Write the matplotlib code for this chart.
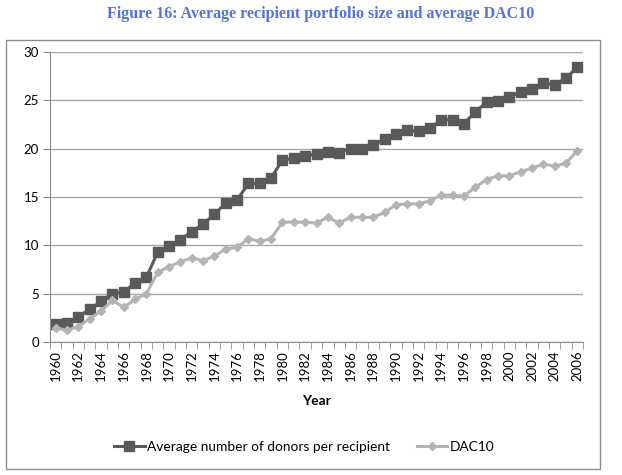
import numpy as np
import matplotlib
matplotlib.use('Agg')
import matplotlib.pyplot as plt
from matplotlib.patches import Rectangle

years = list(range(1960, 2007))
donors = [1.9, 2.0, 2.6, 3.4, 4.2, 5.0, 5.2, 6.1, 6.7, 9.3,
          9.9, 10.6, 11.4, 12.2, 13.2, 14.4, 14.7, 16.4, 16.4, 17.0,
          18.8, 19.0, 19.2, 19.5, 19.7, 19.6, 20.0, 20.0, 20.4, 21.0,
          21.5, 21.9, 21.8, 22.1, 23.0, 23.0, 22.6, 23.8, 24.8, 24.9,
          25.3, 25.9, 26.2, 26.8, 26.6, 27.3, 28.4]
dac10 = [1.5, 1.2, 1.6, 2.4, 3.2, 4.3, 3.6, 4.4, 5.0, 7.2,
         7.8, 8.3, 8.7, 8.4, 8.9, 9.6, 9.8, 10.7, 10.4, 10.7,
         12.4, 12.4, 12.4, 12.3, 12.9, 12.3, 12.9, 12.9, 12.9, 13.4,
         14.2, 14.3, 14.3, 14.6, 15.2, 15.2, 15.1, 16.0, 16.8, 17.2,
         17.2, 17.6, 18.0, 18.4, 18.2, 18.5, 19.8]
labels = ['Average number of donors per recipient', 'DAC10']

plt.rcParams['font.family'] = ['Lato', 'DejaVu Sans']

fig = plt.figure(figsize=(6.22, 4.75), dpi=100)
W, H = 622, 475

# outer chart frame
fig.patches.append(Rectangle((6 / W, 1 - 469 / H), 594 / W, 429 / H,
                             transform=fig.transFigure, fill=False,
                             edgecolor='#8c8c8c', linewidth=1.0))

fig.text(0.515, 1 - 14 / H, 'Figure 16: Average recipient portfolio size and average DAC10',
         ha='center', va='center', fontsize=11.5, fontweight='semibold',
         color='#4f74e0', family=['Liberation Serif', 'DejaVu Serif'])

ax = fig.add_axes([50 / W, 1 - 342 / H, 533 / W, 290 / H])
x = np.arange(len(years))
ax.plot(x, donors, color='#595959', linewidth=2.2, marker='s',
        markersize=7, label=labels[0])
ax.plot(x, dac10, color='#b4b4b4', linewidth=2.2, marker='D',
        markersize=4.5, label=labels[1])

ax.set_xlim(-0.5, len(years) - 0.5)
ax.set_ylim(0, 30)
ax.set_yticks(range(0, 31, 5))
ax.yaxis.grid(True, color='#a6a6a6', linewidth=1.0)
ax.set_axisbelow(True)

ax.set_xticks(x[::2])
ax.set_xticklabels([str(y) for y in years[::2]], rotation=90, fontsize=9.5)
ax.set_xticks(np.arange(-0.5, len(years), 1), minor=True)
ax.tick_params(axis='x', which='major', length=0, pad=6)
ax.tick_params(axis='x', which='minor', length=5, color='#8c8c8c', direction='out')
ax.tick_params(axis='y', length=5, color='#8c8c8c', labelsize=9.5, pad=3)

for s in ['top', 'right']:
    ax.spines[s].set_visible(False)
for s in ['left', 'bottom']:
    ax.spines[s].set_color('#8c8c8c')

ax.set_xlabel('Year', fontsize=10, fontweight='bold', labelpad=10)

ax.legend(loc='center', bbox_to_anchor=(0.489, 1 - 447 / H), bbox_transform=fig.transFigure,
          ncol=2, frameon=False, fontsize=9.9, handlelength=2.2, columnspacing=2.0,
          handletextpad=0.15)

fig.savefig('out.png', dpi=100)
